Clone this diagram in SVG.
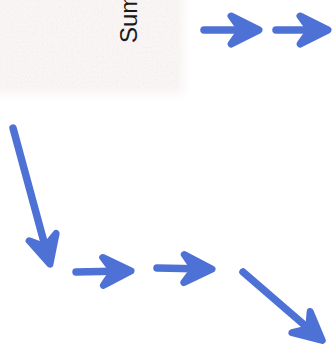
<svg xmlns="http://www.w3.org/2000/svg" width="334" height="349" viewBox="0 0 334 349">
  <style>
    .shaft { fill: none; stroke: #4e71d6; stroke-width: 7.5; stroke-linecap: round; }
    .head { fill: #4e71d6; stroke: #4e71d6; stroke-width: 7; stroke-linejoin: round; }
    .lbl { font-family: "Liberation Sans", Arial, sans-serif; font-size: 24px; fill: #1a1a1a; }
  </style>
  <defs>
    <marker id="ah" markerUnits="userSpaceOnUse" markerWidth="40" markerHeight="40" refX="0" refY="0" orient="auto" overflow="visible">
      <polygon class="head" points="-22,-14 6,0 -22,14 -12,0"/>
    </marker>
    <filter id="soft" x="-10%" y="-10%" width="120%" height="120%">
      <feGaussianBlur stdDeviation="5"/>
    </filter>
    <filter id="grain" x="0" y="0" width="100%" height="100%">
      <feTurbulence type="fractalNoise" baseFrequency="0.8" numOctaves="1" seed="7" result="n"/>
      <feColorMatrix in="n" type="matrix" values="0 0 0 0 0.7  0 0 0 0 0.66  0 0 0 0 0.66  0 0 0 -3 1.45"/>
    </filter>
  </defs>
  <rect width="334" height="349" fill="#ffffff"/>
  <g id="node-sum">
    <rect x="-10" y="-10" width="194" height="104" fill="#f8f5f4" filter="url(#soft)"/>
    <rect x="0" y="0" width="180" height="88" filter="url(#grain)" opacity="0.3"/>
    <text class="lbl" transform="translate(137,43) rotate(-90)">Sum</text>
  </g>
  <g id="connectors">
    <line class="shaft" x1="204" y1="30" x2="253" y2="30" marker-end="url(#ah)"/>
    <line class="shaft" x1="276" y1="30" x2="322" y2="30" marker-end="url(#ah)"/>
    <line class="shaft" x1="13" y1="128" x2="48.4" y2="258.3" marker-end="url(#ah)"/>
    <line class="shaft" x1="76" y1="272" x2="125" y2="271" marker-end="url(#ah)"/>
    <line class="shaft" x1="157" y1="268" x2="206" y2="269" marker-end="url(#ah)"/>
    <line class="shaft" x1="243" y1="272" x2="317.7" y2="336.5" marker-end="url(#ah)"/>
  </g>
</svg>
